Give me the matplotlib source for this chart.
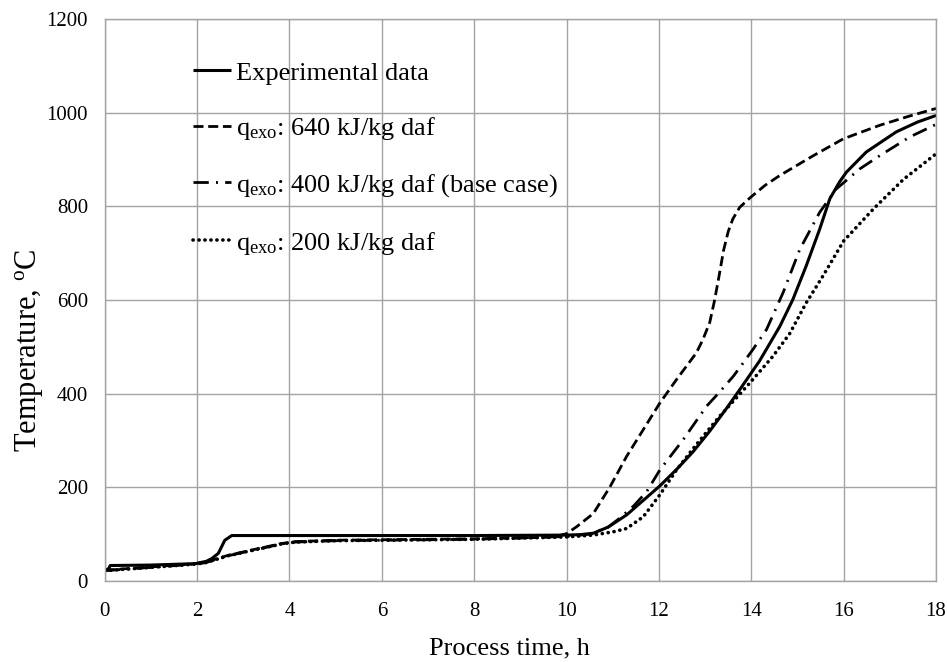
import matplotlib
matplotlib.use("Agg")
import matplotlib.pyplot as plt

plt.rcParams["font.family"] = ["Liberation Serif", "DejaVu Serif"]
plt.rcParams["mathtext.fontset"] = "custom"
plt.rcParams["mathtext.rm"] = "Liberation Serif"
plt.rcParams["mathtext.it"] = "Liberation Serif:italic"

# Measured coke-oven charge temperature
t_exp = [0, 0.08, 0.12, 1.0, 1.96, 2.2, 2.32, 2.46, 2.6, 2.75, 3.0, 5.0, 8.0, 10.0,
         10.3, 10.58, 10.9, 11.3, 11.73, 12.02, 12.4, 12.74, 13.1, 13.46, 13.76,
         14.18, 14.62, 14.9, 15.19, 15.48, 15.7, 15.91, 16.06, 16.49, 17.14, 17.6, 18.0]
T_exp = [22, 26, 33, 34, 37, 42, 48, 59, 87, 97, 97, 97, 97, 98,
         99, 102, 115, 141, 178, 203, 240, 276, 320, 368, 410,
         470, 544, 601, 673, 751, 816, 852, 873, 916, 959, 980, 994]

# Model: exothermic heat 640 kJ/kg daf
t_640 = [0, 1.0, 1.96, 2.18, 2.68, 3.18, 3.83, 4.12, 5.0, 8.0, 9.5, 9.8, 10.0,
         10.22, 10.58, 10.94, 11.3, 11.66, 12.02, 12.38, 12.81, 12.95, 13.1, 13.2,
         13.3, 13.4, 13.5, 13.6, 13.75, 13.97, 14.3, 14.62, 15.34, 15.99, 16.78,
         17.4, 18.0]
T_640 = [23, 30, 37, 40, 55, 66, 80, 84, 87, 90, 93, 96, 101,
         116, 144, 201, 266, 323, 380, 430, 487, 515, 552, 597,
         650, 706, 746, 773, 798, 818, 845, 866, 908, 944, 973,
         992, 1009]

# Model: exothermic heat 400 kJ/kg daf (base case)
t_400 = [0, 1.0, 1.96, 2.18, 2.68, 3.18, 3.83, 4.12, 5.0, 8.0, 10.0, 10.5,
         10.9, 11.15, 11.45, 11.73, 12.02, 12.52, 13.03, 13.3, 13.61, 13.82,
         14.04, 14.33, 14.69, 15.05, 15.48, 15.84, 16.35, 16.78, 17.43, 18.0]
T_400 = [22, 29, 36, 39, 54, 65, 79, 83, 86, 89, 95, 100,
         115, 134, 160, 190, 237, 301, 373, 402, 437, 465,
         495, 537, 616, 708, 787, 837, 880, 908, 948, 975]

# Model: exothermic heat 200 kJ/kg daf
t_200 = [0, 1.0, 1.96, 2.18, 2.68, 3.18, 3.83, 4.12, 5.0, 8.0, 10.0, 10.58,
         11.01, 11.3, 11.66, 12.02, 12.38, 12.8, 13.3, 13.97, 14.47, 14.83,
         15.19, 15.55, 16.0, 16.64, 17.3, 18.0]
T_200 = [22, 29, 36, 39, 54, 65, 79, 83, 86, 89, 94, 98,
         105, 112, 137, 184, 237, 290, 350, 423, 480, 528,
         594, 651, 726, 794, 858, 912]

x_ticks = [0, 2, 4, 6, 8, 10, 12, 14, 16, 18]
y_ticks = [0, 200, 400, 600, 800, 1000, 1200]

fig = plt.figure(figsize=(9.47, 6.62), dpi=100)
ax = fig.add_axes([0.1106, 0.1224, 0.8778, 0.8489])

lw = 2.0
ax.plot(t_exp, T_exp, color="black", lw=2.2, solid_capstyle="butt",
        label="Experimental data")
ax.plot(t_640, T_640, color="black", lw=lw, dashes=(3.6, 1.7),
        label="q$_{\\mathrm{exo}}$: 640 kJ/kg daf")
ax.plot(t_400, T_400, color="black", lw=lw, dashes=(5.5, 2.6, 0.7, 2.6),
        label="q$_{\\mathrm{exo}}$: 400 kJ/kg daf (base case)")
ax.plot(t_200, T_200, color="black", lw=2.6, dashes=(0.05, 1.6),
        dash_capstyle="round",
        label="q$_{\\mathrm{exo}}$: 200 kJ/kg daf")

ax.set_xlim(0, 18)
ax.set_ylim(0, 1200)
ax.set_xticks(x_ticks)
ax.set_yticks(y_ticks)
ax.grid(True, color="#a3a3a3", lw=1.0)
ax.set_axisbelow(True)
for s in ax.spines.values():
    s.set_color("#a3a3a3")
    s.set_linewidth(1.0)
ax.tick_params(axis="both", colors="#a3a3a3", labelcolor="black",
               labelsize=15, length=0)
ax.tick_params(axis="x", pad=15)
ax.tick_params(axis="y", pad=12)

ax.set_xlabel("Process time, h", fontsize=19)
ax.set_ylabel("Temperature, $^{\\mathrm{o}}$C", fontsize=22)
ax.xaxis.set_label_coords(0.487, -0.1)
ax.yaxis.set_label_coords(-0.072, 0.41)

leg = ax.legend(loc="upper left", bbox_to_anchor=(0.106, 0.925),
                frameon=False, fontsize=19, handlelength=1.45,
                handletextpad=0.2, labelspacing=1.15, borderpad=0,
                borderaxespad=0)

fig.savefig("out.png", dpi=100)
